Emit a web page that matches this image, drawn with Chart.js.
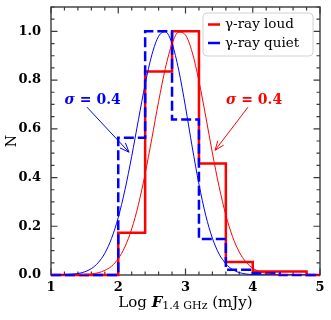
<!DOCTYPE html>
<html>
<head>
<meta charset="utf-8">
<script src="https://cdn.jsdelivr.net/npm/chart.js@4.4.1/dist/chart.umd.min.js"></script>
<style>
  html, body { margin: 0; padding: 0; background: #fff; }
  #wrap { width: 331px; height: 320px; }
</style>
</head>
<body>
<div id="wrap"><canvas id="fluxChart" width="331" height="320"></canvas></div>
<script>
// histogram bins (edges) and normalised counts
const binEdges = [2.0, 2.4, 2.8, 3.2, 3.6, 4.0, 4.4, 4.8];
const loudHist = [0.173, 0.835, 1.0, 0.458, 0.053, 0.014, 0.014];
const quietHist = [0.563, 1.0, 0.638, 0.148, 0.022, 0.007, 0.0];

// gaussian fits
const fitX = [1.0, 1.1, 1.2, 1.3, 1.4, 1.5, 1.6, 1.7, 1.8, 1.9,
  2.0, 2.1, 2.2, 2.3, 2.4, 2.5, 2.6, 2.7, 2.8, 2.9,
  3.0, 3.1, 3.2, 3.3, 3.4, 3.5, 3.6, 3.7, 3.8, 3.9,
  4.0, 4.1, 4.2, 4.3, 4.4, 4.5, 4.6, 4.7, 4.8, 4.9, 5.0];
const loudFit = [0.000, 0.000, 0.000, 0.000, 0.001, 0.002, 0.004, 0.009, 0.019, 0.036,
  0.067, 0.116, 0.189, 0.289, 0.416, 0.561, 0.712, 0.848, 0.949, 0.997,
  0.985, 0.914, 0.796, 0.652, 0.501, 0.362, 0.246, 0.157, 0.094, 0.053,
  0.028, 0.014, 0.007, 0.003, 0.001, 0.001, 0.000, 0.000, 0.000, 0.000, 0.000];
const quietFit = [0.000, 0.000, 0.001, 0.003, 0.006, 0.013, 0.026, 0.050, 0.089, 0.150,
  0.236, 0.350, 0.487, 0.637, 0.783, 0.904, 0.980, 0.998, 0.950, 0.840,
  0.690, 0.525, 0.373, 0.246, 0.151, 0.086, 0.046, 0.022, 0.010, 0.004,
  0.002, 0.001, 0.000, 0.000, 0.000, 0.000, 0.000, 0.000, 0.000, 0.000, 0.000];

const xTicks = [1, 2, 3, 4, 5];
const yTicks = [0.0, 0.2, 0.4, 0.6, 0.8, 1.0];
const seriesLabels = ['\u03b3-ray loud', '\u03b3-ray quiet'];
const sigmaText = '= 0.4';

const RED = '#ff0000';
const BLUE = '#0000ff';
const AXIS = '#3a3a3a';
const serif = '"DejaVu Serif", "Liberation Serif", serif';

function stepPoints(values) {
  const pts = [{ x: xTicks[0], y: 0 }];
  values.forEach((v, i) => pts.push({ x: binEdges[i], y: v }));
  pts.push({ x: binEdges[binEdges.length - 1], y: 0 });
  pts.push({ x: xTicks[xTicks.length - 1], y: 0 });
  return pts;
}
function curvePoints(ys) {
  return fitX.map((x, i) => ({ x: x, y: ys[i] }));
}

// box + inward ticks on all four sides
const frameTicks = {
  id: 'frameTicks',
  beforeDatasetsDraw(chart) {
    const { ctx, chartArea: a, scales: { x, y } } = chart;
    ctx.save();
    ctx.strokeStyle = AXIS;
    ctx.lineWidth = 1.2;
    ctx.beginPath();
    for (let i = 0; i <= 20; i++) {
      const px = x.getPixelForValue(1 + i * 0.2);
      const len = i % 5 === 0 ? 6.5 : 3.5;
      ctx.moveTo(px, a.bottom); ctx.lineTo(px, a.bottom - len);
      ctx.moveTo(px, a.top); ctx.lineTo(px, a.top + len);
    }
    for (let i = 0; i <= 22; i++) {
      const py = y.getPixelForValue(i * 0.05);
      const len = i % 4 === 0 ? 6.5 : 3.5;
      ctx.moveTo(a.left, py); ctx.lineTo(a.left + len, py);
      ctx.moveTo(a.right, py); ctx.lineTo(a.right - len, py);
    }
    ctx.stroke();
    ctx.lineWidth = 1.4;
    ctx.strokeRect(a.left, a.top, a.right - a.left, a.bottom - a.top);
    ctx.restore();
  }
};

function arrow(ctx, x0, y0, x1, y1, color) {
  const ang = Math.atan2(y1 - y0, x1 - x0);
  const head = 10, spread = 0.38;
  ctx.strokeStyle = color;
  ctx.lineWidth = 1;
  ctx.beginPath();
  ctx.moveTo(x0, y0); ctx.lineTo(x1, y1);
  ctx.moveTo(x1 - head * Math.cos(ang - spread), y1 - head * Math.sin(ang - spread));
  ctx.lineTo(x1, y1);
  ctx.lineTo(x1 - head * Math.cos(ang + spread), y1 - head * Math.sin(ang + spread));
  ctx.stroke();
}

function sigmaLabel(ctx, cx, cy, color) {
  const f1 = 'italic bold 14px ' + serif;
  const f2 = 'bold 14px ' + serif;
  ctx.font = f1; const w1 = ctx.measureText('\u03c3 ').width;
  ctx.font = f2; const w2 = ctx.measureText(sigmaText).width;
  let x0 = cx - (w1 + w2) / 2;
  ctx.fillStyle = color;
  ctx.textBaseline = 'middle';
  ctx.textAlign = 'left';
  ctx.font = f1; ctx.fillText('\u03c3', x0, cy);
  ctx.font = f2; ctx.fillText(sigmaText, x0 + w1, cy);
}

const overlays = {
  id: 'overlays',
  afterDraw(chart) {
    const { ctx, chartArea: a, scales: { x, y } } = chart;
    ctx.save();
    // x axis title with subscript
    const parts = [
      { t: 'Log ', f: '15px ' + serif, dy: 0 },
      { t: 'F', f: 'italic bold 15px ' + serif, dy: 0 },
      { t: '1.4 GHz', f: '11px ' + serif, dy: 3.5 },
      { t: ' (mJy)', f: '15px ' + serif, dy: 0 }
    ];
    let total = 0;
    parts.forEach(p => { ctx.font = p.f; p.w = ctx.measureText(p.t).width; total += p.w; });
    let tx = (a.left + a.right) / 2 - total / 2;
    const ty = 303;
    ctx.fillStyle = '#000';
    ctx.textBaseline = 'middle';
    ctx.textAlign = 'left';
    parts.forEach(p => { ctx.font = p.f; ctx.fillText(p.t, tx, ty + p.dy); tx += p.w; });

    // sigma annotations
    sigmaLabel(ctx, x.getPixelForValue(1.62), y.getPixelForValue(0.717), BLUE);
    arrow(ctx, x.getPixelForValue(1.535), y.getPixelForValue(0.689),
      x.getPixelForValue(2.16), y.getPixelForValue(0.504), BLUE);
    sigmaLabel(ctx, x.getPixelForValue(4.02), y.getPixelForValue(0.717), RED);
    arrow(ctx, x.getPixelForValue(3.93), y.getPixelForValue(0.689),
      x.getPixelForValue(3.44), y.getPixelForValue(0.512), RED);

    // legend
    const lx = 203, ly = 13, lw = 110, lh = 43;
    ctx.fillStyle = 'rgba(255,255,255,0.85)';
    ctx.strokeStyle = '#d2d2d2';
    ctx.lineWidth = 1;
    ctx.beginPath();
    ctx.roundRect(lx, ly, lw, lh, 4);
    ctx.fill(); ctx.stroke();
    const rows = [{ c: RED, yy: 24.5 }, { c: BLUE, yy: 43 }];
    rows.forEach((r, i) => {
      ctx.strokeStyle = r.c;
      ctx.lineWidth = 2.5;
      ctx.beginPath();
      ctx.moveTo(208, r.yy); ctx.lineTo(220, r.yy);
      ctx.stroke();
      ctx.fillStyle = '#000';
      ctx.font = '13.5px ' + serif;
      ctx.fillText(seriesLabels[i], 225, r.yy);
    });
    ctx.restore();
  }
};

new Chart(document.getElementById('fluxChart'), {
  type: 'line',
  data: {
    datasets: [
      {
        label: 'loud fit', data: curvePoints(loudFit),
        borderColor: RED, borderWidth: 1, pointRadius: 0,
        cubicInterpolationMode: 'monotone', order: 1
      },
      {
        label: 'quiet fit', data: curvePoints(quietFit),
        borderColor: BLUE, borderWidth: 1, pointRadius: 0,
        cubicInterpolationMode: 'monotone', order: 0
      },
      {
        label: seriesLabels[0], data: stepPoints(loudHist), stepped: true,
        borderColor: RED, borderWidth: 2.5, pointRadius: 0,
        borderJoinStyle: 'miter', order: 3, clip: 4
      },
      {
        label: seriesLabels[1], data: stepPoints(quietHist), stepped: true,
        borderColor: BLUE, borderWidth: 2.5, pointRadius: 0,
        borderDash: [10, 4], borderJoinStyle: 'miter', order: 2, clip: 4
      }
    ]
  },
  options: {
    responsive: false,
    animation: false,
    layout: { padding: { left: 0, right: 11, top: 7, bottom: 0 } },
    plugins: { legend: { display: false }, tooltip: { enabled: false } },
    scales: {
      x: {
        type: 'linear', min: 1, max: 5,
        afterBuildTicks: s => { s.ticks = xTicks.map(v => ({ value: v })); },
        afterFit: s => { s.height = 45; s.paddingLeft = 0; s.paddingRight = 0; },
        grid: { display: false },
        border: { display: false },
        ticks: {
          font: { family: serif, size: 13, weight: 'bold' }, color: '#000',
          padding: -3, maxRotation: 0, autoSkip: false,
          callback: v => String(v)
        }
      },
      y: {
        type: 'linear', min: 0, max: 1.1,
        afterBuildTicks: s => { s.ticks = yTicks.map(v => ({ value: v })); },
        afterFit: s => { s.width = 51; s.paddingTop = 0; s.paddingBottom = 0; },
        grid: { display: false },
        border: { display: false },
        ticks: {
          font: { family: serif, size: 13, weight: 'bold' }, color: '#000',
          padding: 2, callback: v => v.toFixed(1)
        },
        title: {
          display: true, text: 'N', color: '#000',
          font: { family: serif, size: 14 }, padding: { top: 4, bottom: 0 }
        }
      }
    }
  },
  plugins: [frameTicks, overlays]
});
</script>
</body>
</html>
